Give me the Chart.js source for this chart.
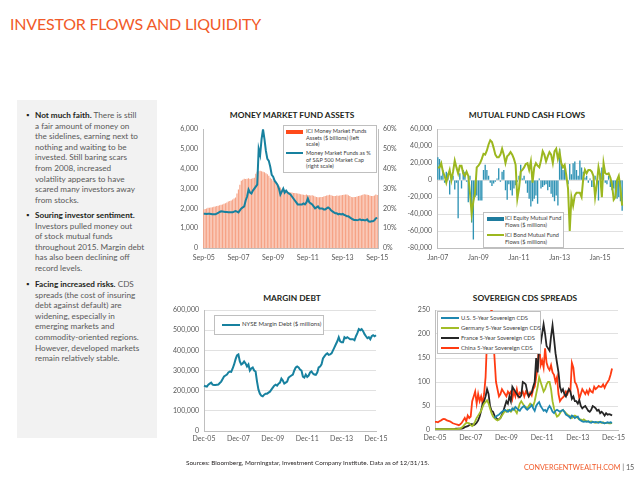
<!DOCTYPE html>
<html>
<head>
<meta charset="utf-8">
<script src="https://cdn.jsdelivr.net/npm/chart.js@4.4.0/dist/chart.umd.min.js"></script>
<style>
  body { margin: 0; width: 640px; height: 480px; background: #fff; position: relative; overflow: hidden; font-family: Lato, "DejaVu Sans", sans-serif; }
  canvas { position: absolute; }
  .title { position: absolute; left: 10px; top: 14px; font-size: 16px; font-weight: 400; color: #F15A29; letter-spacing: -0.2px; }
  .panel { position: absolute; left: 17px; top: 100px; width: 140px; height: 338px; background: #F2F2F2; }
  .bul { position: absolute; left: 35px; font-size: 8.2px; line-height: 10.6px; color: #595959; white-space: nowrap; }
  .bul b { color: #231F20; }
  .bul::before { content: "\25AA"; position: absolute; left: -9px; top: 0; color: #231F20; font-size: 8px; }
  .ct { position: absolute; font-size: 8.4px; font-weight: bold; color: #231F20; transform: translateX(-50%); white-space: nowrap; }
  .leg { position: absolute; background: #fff; border: 0.6px solid #BFBFBF; z-index: 2; }
  .leg .sw { position: absolute; }
  .leg .lt { position: absolute; font-size: 5.6px; line-height: 6.5px; color: #404040; white-space: nowrap; }
  .src { position: absolute; left: 186px; top: 459px; font-size: 6.4px; color: #231F20; }
  .foot { position: absolute; left: 524px; top: 463px; font-size: 7.2px; color: #F15A29; white-space: nowrap; }
  .foot span { color: #595959; }
</style>
</head>
<body>

<div class="title">INVESTOR FLOWS AND LIQUIDITY</div>

<div class="panel"></div>
<div class="bul" style="top:110px"><b>Not much faith.</b> There is still<br>a fair amount of money on<br>the sidelines, earning next to<br>nothing and waiting to be<br>invested. Still baring scars<br>from 2008, increased<br>volatility appears to have<br>scared many investors away<br>from stocks.</div>
<div class="bul" style="top:210px"><b>Souring investor sentiment.</b><br>Investors pulled money out<br>of stock mutual funds<br>throughout 2015. Margin debt<br>has also been declining off<br>record levels.</div>
<div class="bul" style="top:279px"><b>Facing increased risks.</b> CDS<br>spreads (the cost of insuring<br>debt against default) are<br>widening, especially in<br>emerging markets and<br>commodity-oriented regions.<br>However, developed markets<br>remain relatively stable.</div>

<div class="ct" style="left:292px;top:110px">MONEY MARKET FUND ASSETS</div>
<div class="ct" style="left:527px;top:110px">MUTUAL FUND CASH FLOWS</div>
<div class="ct" style="left:292px;top:293px">MARGIN DEBT</div>
<div class="ct" style="left:525px;top:293px">SOVEREIGN CDS SPREADS</div>

<canvas id="c1" width="240" height="150" style="left:160px;top:120px"></canvas>
<canvas id="c2" width="240" height="150" style="left:400px;top:120px"></canvas>
<canvas id="c3" width="240" height="160" style="left:160px;top:300px"></canvas>
<canvas id="c4" width="240" height="160" style="left:400px;top:300px"></canvas>

<div class="leg" style="left:283px;top:125px;width:92px;height:46px">
  <div class="sw" style="left:2px;top:4px;width:17px;height:4px;background:#FF4A1A"></div>
  <div class="lt" style="left:22px;top:2px">ICI Money Market Funds<br>Assets ($ billions) (left<br>scale)</div>
  <div class="sw" style="left:2px;top:26px;width:17px;height:2px;background:#17819F"></div>
  <div class="lt" style="left:22px;top:24px">Money Market Funds as %<br>of S&amp;P 500 Market Cap<br>(right scale)</div>
</div>

<div class="leg" style="left:483px;top:212px;width:79px;height:34px">
  <div class="sw" style="left:3px;top:4px;width:17px;height:4px;background:#1F7C9E"></div>
  <div class="lt" style="left:21px;top:2px">ICI Equity Mutual Fund<br>Flows ($ millions)</div>
  <div class="sw" style="left:3px;top:21px;width:17px;height:2px;background:#9CB71F"></div>
  <div class="lt" style="left:21px;top:19px">ICI Bond Mutual Fund<br>Flows ($ millions)</div>
</div>

<div class="leg" style="left:214px;top:315px;width:108px;height:18px">
  <div class="sw" style="left:7px;top:8px;width:18px;height:2px;background:#17819F"></div>
  <div class="lt" style="left:27px;top:5px;font-size:6px">NYSE Margin Debt ($ millions)</div>
</div>

<div class="leg" style="left:437px;top:311px;width:102px;height:41px">
  <div class="sw" style="left:3px;top:5px;width:18px;height:2px;background:#1E87B0"></div>
  <div class="lt" style="left:23px;top:3px;font-size:5.8px">U.S. 5-Year Sovereign CDS</div>
  <div class="sw" style="left:3px;top:15px;width:18px;height:2px;background:#A2BD28"></div>
  <div class="lt" style="left:23px;top:13px;font-size:5.8px">Germany 5-Year Sovereign CDS</div>
  <div class="sw" style="left:3px;top:25px;width:18px;height:2px;background:#262626"></div>
  <div class="lt" style="left:23px;top:23px;font-size:5.8px">France 5-Year Sovereign CDS</div>
  <div class="sw" style="left:3px;top:35px;width:18px;height:2px;background:#FF3B12"></div>
  <div class="lt" style="left:23px;top:33px;font-size:5.8px">China 5-Year Sovereign CDS</div>
</div>

<div class="src">Sources: Bloomberg, Morningstar, Investment Company Institute. Data as of 12/31/15.</div>
<div class="foot">CONVERGENTWEALTH.COM<span> | 15</span></div>

<script>
// money market funds, monthly Sep-05 .. Sep-15
const mmfAssets = [
  1950, 1970, 2000, 2030,
  2030, 2050, 2060, 2080, 2100, 2120, 2140, 2160, 2180, 2200, 2230, 2260,
  2300, 2350, 2380, 2400, 2450, 2500, 2550, 2750, 2950, 3200, 3400, 3450,
  3500, 3480, 3500, 3520, 3480, 3500, 3520, 3550, 3750, 3850, 3880, 3900,
  3880, 3850, 3820, 3780, 3720, 3650, 3550, 3480, 3400, 3350, 3300, 3250,
  3150, 3050, 2950, 2900, 2880, 2850, 2830, 2820, 2800, 2800, 2780, 2780,
  2760, 2750, 2740, 2720, 2700, 2690, 2680, 2700, 2680, 2670, 2650, 2660,
  2640, 2600, 2570, 2560, 2560, 2570, 2580, 2600, 2630, 2650, 2670, 2690,
  2660, 2640, 2620, 2630, 2650, 2640, 2650, 2660, 2680, 2690, 2700, 2700,
  2660, 2620, 2580, 2560, 2570, 2570, 2600, 2620, 2640, 2660, 2690, 2720,
  2700, 2690, 2680, 2640, 2620, 2630, 2650, 2700, 2680
];
const mmfPct = [
  17.3, 17.3, 17.2, 17.3, 17.3, 17.2, 17.1, 17.0, 17.0, 17.4,
  17.8, 18.2, 18.5, 18.4, 18.3, 18.2, 18.2, 18.1, 18.0, 18.0,
  18.0, 18.4, 18.7, 18.4, 18.0, 19.0, 20.0, 20.5, 21.0, 24.0,
  26.0, 29.5, 28.0, 27.5, 29.0, 30.0, 31.0, 32.0, 50.0, 47.0,
  55.0, 60.0, 55.0, 49.0, 45.0, 44.0, 41.0, 37.0, 36.0, 34.0,
  33.0, 32.0, 30.0, 27.0, 28.5, 30.0, 28.0, 29.0, 28.0, 27.5,
  27.0, 26.0, 25.0, 24.0, 23.0, 22.0, 22.0, 22.0, 22.0, 22.5,
  22.0, 23.0, 25.0, 23.0, 22.5, 22.0, 21.0, 20.0, 20.5, 21.0,
  20.0, 20.0, 20.0, 19.5, 19.5, 20.0, 20.5, 20.0, 19.0, 18.5,
  18.0, 17.5, 17.5, 17.0, 17.3, 17.0, 17.2, 16.8, 16.5, 16.0,
  16.0, 15.5, 15.0, 14.5, 14.2, 14.2, 14.0, 14.2, 14.5, 14.0,
  14.2, 14.0, 14.0, 14.5, 13.5, 13.3, 13.5, 13.5, 14.0, 15.0,
  15.2
];

// mutual fund flows ($ millions), monthly Jan-07 ..
const equityFlows = [
  27000, 25000, 5000, 12000, -3000, 10000, 8000, -17000, 2000, 5000, -11000, -3000,
  -45000, 8000, -10000, 12000, 10000, -2000, -26000, 5000, -50000, -70000, -20000, -18000,
  -24000, -24000, -24000, 12000, 18000, 12000, 5000, -3000, -7000, -4000, -2000, 2000,
  14000, -2000, 10000, 12000, -12000, -23000, -5000, -12000, -18000, -10000, -6000, -2000,
  5000, 18000, 2000, 5000, -4000, -15000, -22000, -31000, -25000, -22000, -18000, -28000,
  2000, -10000, -8000, -6000, -5000, -12000, -8000, -16000, -20000, -25000, -18000, -30000,
  37000, 20000, 12000, 15000, 8000, -5000, 19000, 7000, 20000, 22000, 12000, 5000,
  23000, 15000, 10000, 3000, 5000, -3000, 2000, -8000, -8000, 5000, -5000, -24000,
  8000, 15000, 6000, -3000, -5000, 5000, -8000, -12000, -10000, -18000, -22000, -20000,
  -25000, -36000
];
const bondFlows = [
  15000, 15000, 20000, 10000, 5000, -3000, 5000, 12000, 0, 10000,
  23000, 15000, 8000, 17000, 17000, 8000, 5000, 10000, 5000, -15000,
  -40000, -25000, -15000, 15000, 17000, 20000, 25000, 31000, 30000, 35000,
  42000, 47000, 45000, 38000, 30000, 27000, 27000, 30000, 37000, 30000,
  20000, 28000, 30000, 33000, 30000, 25000, 18000, -22000, -10000, 10000,
  12000, 15000, 19000, 20000, 12000, 22000, -3000, 15000, 20000, 17000,
  15000, 23000, 34000, 30000, 22000, 28000, 33000, 30000, 20000, 34000,
  37000, 25000, 33000, 20000, 15000, 18000, 5000, -10000, -60000, -20000,
  -30000, -18000, -15000, -15000, -15000, -20000, 2000, 12000, 8000, 12000,
  12000, 10000, 5000, -20000, -5000, 15000, 5000, -20000, 20000, 8000,
  7000, 8000, 3000, -5000, -23000, -20000, 0, 5000, -10000, -30000
];

// NYSE margin debt ($ millions), monthly Dec-05 .. Dec-15
const marginDebt = [
  225000, 222000, 220000, 230000, 235000, 240000, 230000, 228000, 228000, 229000,
  230000, 238000, 245000, 258000, 270000, 275000, 280000, 290000, 295000, 293000,
  310000, 330000, 355000, 375000, 380000, 345000, 330000, 335000, 345000, 335000,
  320000, 330000, 300000, 310000, 315000, 300000, 295000, 245000, 205000, 185000,
  175000, 172000, 180000, 185000, 185000, 190000, 195000, 205000, 215000, 225000,
  230000, 225000, 235000, 240000, 260000, 250000, 235000, 240000, 245000, 265000,
  270000, 275000, 280000, 300000, 315000, 320000, 315000, 305000, 300000, 270000,
  265000, 280000, 268000, 275000, 290000, 295000, 285000, 280000, 278000, 290000,
  315000, 320000, 330000, 360000, 370000, 380000, 385000, 378000, 380000, 385000,
  400000, 415000, 430000, 445000, 465000, 445000, 440000, 440000, 465000, 460000,
  465000, 460000, 455000, 455000, 455000, 450000, 470000, 485000, 505000, 500000,
  505000, 495000, 480000, 470000, 460000, 465000, 455000, 470000, 475000, 470000,
  475000
];

// sovereign 5y CDS (bp), monthly Dec-05 ..
const cdsChina = [
  17, 17, 16, 18, 20, 22, 23, 22, 20, 19,
  18, 16, 14, 13, 12, 11, 10, 12, 15, 20,
  25, 18, 30, 25, 28, 60, 70, 80, 55, 75,
  60, 70, 55, 75, 110, 190, 180, 200, 260, 200,
  150, 100, 85, 70, 75, 85, 80, 75, 70, 80,
  75, 80, 65, 80, 70, 85, 70, 78, 75, 80,
  70, 80, 75, 70, 78, 72, 85, 90, 110, 130,
  190, 135, 145, 130, 170, 140, 130, 125, 135, 120,
  115, 100, 110, 75, 60, 65, 68, 72, 80, 75,
  85, 80, 140, 130, 100, 95, 85, 65, 75, 85,
  80, 75, 82, 75, 85, 80, 78, 90, 85, 88,
  92, 90, 90, 95, 88, 95, 100, 105, 115, 128
];
const cdsFrance = [
  2, 2, 2, 2, 2, 2, 2, 2, 2, 2,
  2, 2, 2, 2, 3, 3, 3, 3, 3, 4,
  6, 7, 8, 10, 12, 12, 10, 12, 15, 20,
  28, 40, 55, 60, 70, 85, 75, 50, 40, 38,
  30, 25, 22, 22, 25, 32, 40, 50, 60, 55,
  70, 60, 90, 85, 80, 75, 70, 68, 72, 100,
  98, 95, 80, 70, 75, 78, 90, 100, 150, 120,
  175, 180, 200, 220, 200, 175, 170, 165, 195, 218,
  190, 160, 140, 120, 90, 80, 85, 75, 70, 78,
  85, 80, 65, 70, 60, 60, 55, 62, 50, 45,
  48, 50, 45, 40, 38, 42, 50, 48, 45, 40,
  42, 35, 38, 35, 30, 35, 32, 33, 32, 30
];
const cdsGermany = [
  2, 2, 2, 2, 2, 2, 2, 2, 2, 2,
  2, 2, 2, 2, 2, 2, 3, 3, 5, 8,
  12, 15, 15, 14, 10, 8, 12, 18, 25, 30,
  35, 40, 48, 55, 58, 62, 55, 45, 35, 28,
  25, 22, 20, 22, 25, 30, 35, 40, 38, 42,
  40, 38, 42, 45, 40, 35, 45, 55, 60, 55,
  50, 48, 45, 50, 55, 52, 50, 60, 75, 90,
  110, 100, 90, 80, 85, 95, 100, 100, 85, 60,
  45, 35, 28, 30, 35, 40, 42, 38, 35, 32,
  30, 28, 25, 28, 30, 28, 25, 22, 22, 20,
  22, 20, 18, 18, 17, 18, 17, 16, 15, 16,
  17, 16, 15, 16, 14, 15, 15, 14, 14, 15
];
const cdsUS = Array(40).fill(null).concat([
  25, 28, 30, 32, 35, 38, 40, 42, 40, 38,
  42, 40, 45, 42, 48, 45, 42, 40, 45, 48,
  50, 45, 42, 45, 48, 52, 45, 40, 50, 55,
  58, 50, 45, 40, 42, 38, 45, 50, 45, 38,
  35, 40, 42, 40, 38, 40, 42, 38, 32, 30,
  28, 25, 30, 28, 25, 27, 28, 22, 20, 18,
  17, 18, 17, 18, 16, 15, 17, 16, 17, 16,
  15, 17, 16, 15, 14, 15, 16, 15, 16, 15
]);

const MON = ['Jan','Feb','Mar','Apr','May','Jun','Jul','Aug','Sep','Oct','Nov','Dec'];
function monthLabels(year, month, n) {
  const out = [];
  for (let i = 0; i < n; i++) {
    const m = (month + i) % 12, y = year + Math.floor((month + i) / 12);
    out.push(MON[m] + '-' + String(y % 100).padStart(2, '0'));
  }
  return out;
}
const mmfMonths = monthLabels(2005, 8, mmfAssets.length);
const flowMonths = monthLabels(2007, 0, equityFlows.length);
const debtMonths = monthLabels(2005, 11, marginDebt.length);
const cdsMonths = monthLabels(2005, 11, 124);

const tickColor = '#595959';
const axisColor = '#BFBFBF';
const gridColor = '#D9D9D9';
const tickFont = { family: 'Lato', size: 7 };
const fmt = v => v.toLocaleString('en-US');

function xAxis(h, offset, pad) {
  return {
    type: 'category', offset: offset,
    grid: { display: false, drawTicks: false },
    border: { display: true, color: axisColor, width: 1 },
    ticks: {
      autoSkip: false, maxRotation: 0, padding: pad, color: tickColor, font: tickFont,
      callback: function (v, i) { return i % 24 === 0 ? this.getLabelForValue(v) : null; }
    },
    afterFit: s => { s.height = h; }
  };
}
function yAxis(w, pos, min, max, step, cb, grid) {
  return {
    position: pos, min: min, max: max,
    grid: { display: grid, color: gridColor, drawTicks: false, lineWidth: 0.8 },
    border: { display: true, color: axisColor, width: 1 },
    ticks: { stepSize: step, padding: 5, color: tickColor, font: tickFont, callback: cb },
    afterFit: s => { s.width = w; }
  };
}
const base = {
  responsive: false, animation: false,
  plugins: { legend: { display: false }, tooltip: { enabled: false } }
};

new Chart(document.getElementById('c1'), {
  data: {
    labels: mmfMonths,
    datasets: [
      { type: 'line', data: mmfPct, yAxisID: 'y1', borderColor: '#17819F', borderWidth: 2, pointRadius: 0, order: 0 },
      { type: 'bar', data: mmfAssets, yAxisID: 'y', backgroundColor: '#F6A386', barPercentage: 0.8, categoryPercentage: 1, order: 1 }
    ]
  },
  options: Object.assign({}, base, {
    layout: { padding: { top: 8, right: 0, left: 0, bottom: 0 } },
    scales: {
      x: xAxis(22, true, 6),
      y: yAxis(43, 'left', 0, 6000, 1000, fmt, false),
      y1: yAxis(22, 'right', 0, 60, 10, v => v + '%', false)
    }
  })
});

new Chart(document.getElementById('c2'), {
  data: {
    labels: flowMonths,
    datasets: [
      { type: 'line', data: bondFlows, borderColor: '#9CB71F', borderWidth: 2, pointRadius: 0, order: 0 },
      { type: 'bar', data: equityFlows, backgroundColor: '#2F93B5', barPercentage: 0.8, categoryPercentage: 1, order: 1 }
    ]
  },
  options: Object.assign({}, base, {
    layout: { padding: { top: 9, right: 17, left: 0, bottom: 0 } },
    scales: {
      x: xAxis(22, true, 6),
      y: yAxis(37, 'left', -80000, 60000, 20000, fmt, true)
    }
  })
});

new Chart(document.getElementById('c3'), {
  type: 'line',
  data: {
    labels: debtMonths,
    datasets: [
      { data: marginDebt, borderColor: '#17819F', borderWidth: 2, pointRadius: 0 }
    ]
  },
  options: Object.assign({}, base, {
    layout: { padding: { top: 10, right: 24, left: 0, bottom: 9 } },
    scales: {
      x: xAxis(20, false, 4),
      y: yAxis(44, 'left', 0, 600000, 100000, fmt, true)
    }
  })
});

new Chart(document.getElementById('c4'), {
  type: 'line',
  data: {
    labels: cdsMonths,
    datasets: [
      { data: cdsUS, borderColor: '#1E87B0', borderWidth: 1.8, pointRadius: 0 },
      { data: cdsGermany, borderColor: '#A2BD28', borderWidth: 1.8, pointRadius: 0 },
      { data: cdsFrance, borderColor: '#262626', borderWidth: 1.8, pointRadius: 0 },
      { data: cdsChina, borderColor: '#FF3B12', borderWidth: 1.8, pointRadius: 0 }
    ]
  },
  options: Object.assign({}, base, {
    layout: { padding: { top: 10, right: 22, left: 0, bottom: 10 } },
    scales: {
      x: xAxis(20, false, 4),
      y: yAxis(35, 'left', 0, 250, 50, fmt, true)
    }
  })
});
</script>
</body>
</html>
